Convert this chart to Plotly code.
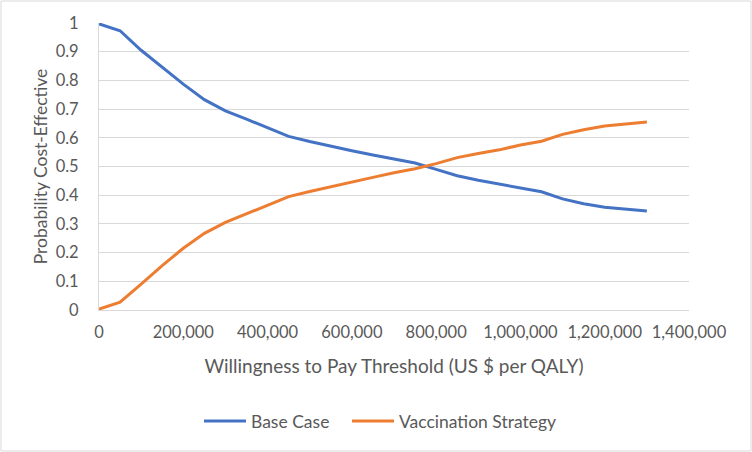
import plotly.graph_objects as go

wtp = [0, 50000, 100000, 150000, 200000, 250000, 300000, 350000, 400000, 450000,
       500000, 550000, 600000, 650000, 700000, 750000, 800000, 850000, 900000, 950000,
       1000000, 1050000, 1100000, 1150000, 1200000, 1250000, 1300000]
base_case = [0.997, 0.973, 0.905, 0.845, 0.787, 0.733, 0.694, 0.665, 0.636, 0.605,
             0.587, 0.570, 0.555, 0.540, 0.526, 0.512, 0.490, 0.468, 0.452, 0.438,
             0.424, 0.412, 0.387, 0.370, 0.358, 0.351, 0.345]
vaccination = [0.003, 0.027, 0.090, 0.155, 0.215, 0.267, 0.305, 0.335, 0.365, 0.395,
               0.413, 0.430, 0.446, 0.462, 0.478, 0.492, 0.510, 0.531, 0.545, 0.558,
               0.575, 0.588, 0.612, 0.628, 0.641, 0.649, 0.655]

FONT = "Lato"
TXT = "#595959"

fig = go.Figure()
fig.add_trace(go.Scatter(x=wtp, y=base_case, mode="lines", name="Base Case",
                         line=dict(color="#4472C4", width=3), legend="legend"))
fig.add_trace(go.Scatter(x=wtp, y=vaccination, mode="lines", name="Vaccination Strategy",
                         line=dict(color="#ED7D31", width=3), legend="legend2"))

L, R, T, B = 99, 63, 23, 142
W, H = 752, 452
pw, ph = W - L - R, H - T - B

leg_common = dict(orientation="h", xanchor="left", y=-0.387, yanchor="middle",
                  itemwidth=42, font=dict(family=FONT, size=17.5, color=TXT),
                  bgcolor="rgba(0,0,0,0)")

fig.update_layout(
    width=W, height=H,
    margin=dict(l=L, r=R, t=T, b=B, autoexpand=False),
    paper_bgcolor="white", plot_bgcolor="white",
    font=dict(family=FONT, size=16, color=TXT),
    showlegend=True,
    legend=dict(x=(199 - L) / pw, **leg_common),
    legend2=dict(x=(347 - L) / pw, **leg_common),
    xaxis=dict(range=[0, 1400000], dtick=200000, tickformat=",",
               showgrid=False, showline=True, linecolor="#d9d9d9", linewidth=1,
               ticks="", ticklabelstandoff=7, zeroline=False, automargin=False,
               tickfont=dict(family=FONT, size=16.5, color=TXT),
               title=dict(text="Willingness to Pay Threshold (US $ per QALY)",
                          font=dict(family=FONT, size=19, color=TXT), standoff=18)),
    yaxis=dict(range=[0, 1], dtick=0.1, showgrid=True, gridcolor="#d9d9d9", gridwidth=1,
               showline=True, linecolor="#d9d9d9", linewidth=1, zeroline=False,
               ticks="", ticklabelstandoff=16, automargin=False,
               tickfont=dict(family=FONT, size=16.5, color=TXT),
               title=dict(text="Probability Cost-Effective",
                          font=dict(family=FONT, size=17.5, color=TXT), standoff=3)),
    shapes=[dict(type="rect", xref="paper", yref="paper",
                 x0=-(L - 1) / pw, x1=1 + (R - 1) / pw,
                 y0=-(B - 1) / ph, y1=1 + (T - 1) / ph,
                 line=dict(color="#d9d9d9", width=1), fillcolor="rgba(0,0,0,0)", layer="below")],
)

fig.write_html("out.html", config={"displayModeBar": False},
               post_script="document.body.style.margin='0px';")
